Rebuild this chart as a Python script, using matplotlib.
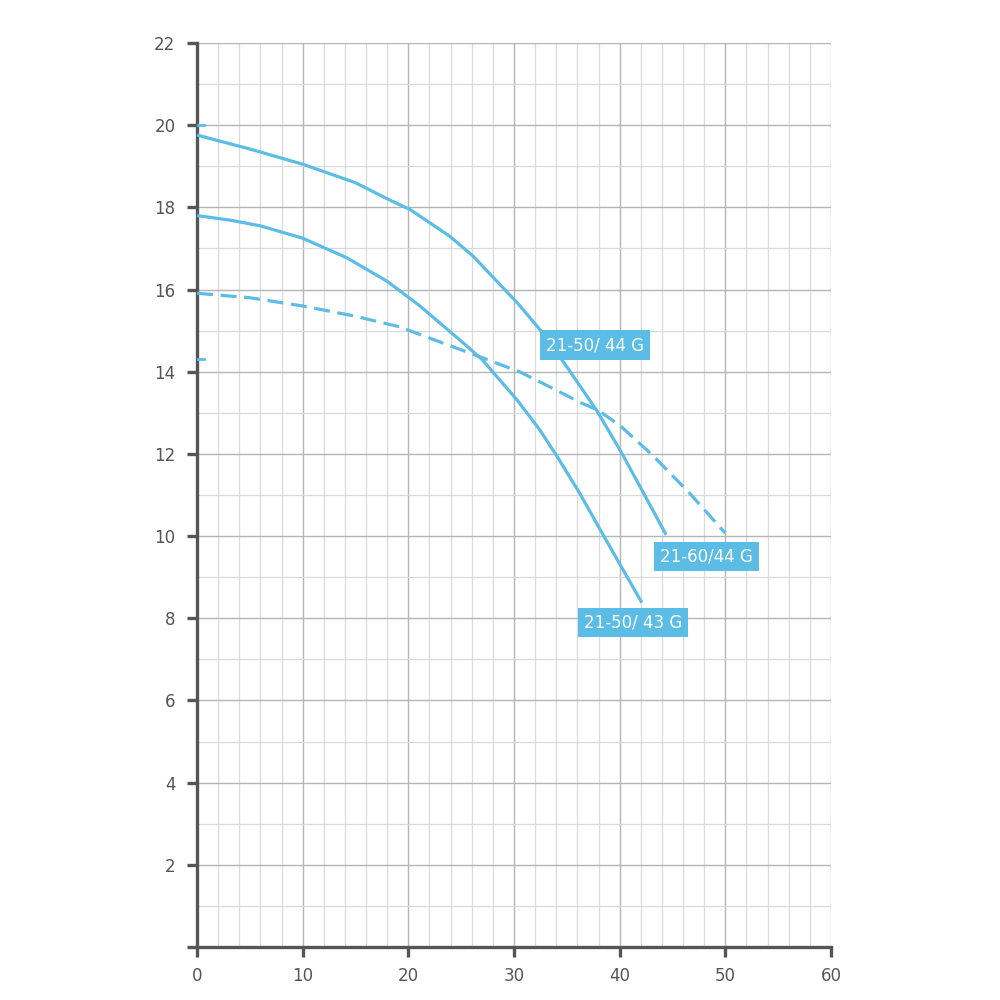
## Pump curves chart
import numpy as np
import matplotlib.pyplot as plt
from matplotlib.ticker import MultipleLocator

## Data
x_5044 = [0, 5, 10, 15, 18.3, 20.15, 23.9, 26.1, 28.9, 30.3, 32.7, 35, 37.8, 40.2, 42, 44.4]
y_5044 = [19.76, 19.42, 19.05, 18.6, 18.17, 17.95, 17.3, 16.82, 16.06, 15.68, 14.95, 14.12, 13.07, 12.02, 11.17, 10.03]

x_5043 = [0, 3.1, 6, 10, 14.2, 18, 21.1, 25.2, 27, 30.3, 32.4, 34.1, 36.2, 38.5, 42.1]
y_5043 = [17.8, 17.69, 17.55, 17.25, 16.77, 16.2, 15.6, 14.7, 14.29, 13.31, 12.6, 11.93, 11.05, 10.0, 8.38]

x_6044 = [0, 5, 10, 15, 19.2, 22, 26.8, 30.6, 33.4, 36.2, 37.9, 40, 43.1, 46.6, 50]
y_6044 = [15.91, 15.8, 15.6, 15.35, 15.09, 14.82, 14.36, 13.99, 13.63, 13.26, 13.07, 12.7, 11.97, 11.05, 10.07]

# short stray stubs next to the y axis
stub_x = [0, 0.7]
stub_y1 = [20.0, 20.0]
stub_y2 = [14.3, 14.3]

labels = ['21-50/ 44 G', '21-60/44 G', '21-50/ 43 G']
label_x = [37.7, 48.2, 41.3]
label_y = [14.65, 9.5, 7.9]

blue = '#5bbde6'
dark = '#555555'

fig = plt.figure(figsize=(10, 10), dpi=100)
ax = fig.add_axes([0.197, 0.053, 0.634, 0.904])

ax.set_xlim(0, 60)
ax.set_ylim(0, 22)

## grid
ax.xaxis.set_major_locator(MultipleLocator(10))
ax.xaxis.set_minor_locator(MultipleLocator(2))
ax.yaxis.set_major_locator(MultipleLocator(2))
ax.yaxis.set_minor_locator(MultipleLocator(1))
ax.grid(which='major', color='#b5b5b5', linewidth=1.0)
ax.grid(which='minor', color='#dadada', linewidth=0.9)
ax.set_axisbelow(True)

## spines and ticks
for s in ['top', 'right']:
    ax.spines[s].set_visible(False)
for s in ['left', 'bottom']:
    ax.spines[s].set_color(dark)
    ax.spines[s].set_linewidth(2.4)
ax.tick_params(which='major', direction='out', length=7.5, width=2.4, color=dark,
               labelcolor=dark, labelsize=12)
ax.tick_params(axis='y', which='major', pad=8)
ax.tick_params(axis='x', which='major', pad=7)
ax.tick_params(which='minor', length=0)
ax.set_yticks(np.arange(0, 23, 2))
ax.set_yticklabels([''] + [str(v) for v in range(2, 23, 2)])

## curves
ax.plot(x_5044, y_5044, color=blue, linewidth=2.3, solid_capstyle='butt', clip_on=False, zorder=3)
ax.plot(x_5043, y_5043, color=blue, linewidth=2.3, solid_capstyle='butt', clip_on=False, zorder=3)
ax.plot(x_6044, y_6044, color=blue, linewidth=2.3, dashes=(5, 2.4), clip_on=False, zorder=3)
ax.plot(stub_x, stub_y1, color=blue, linewidth=2.0, zorder=3)
ax.plot(stub_x, stub_y2, color=blue, linewidth=2.0, zorder=3)

## labels
for t, lx, ly in zip(labels, label_x, label_y):
    ax.text(lx, ly, t, color='white', fontsize=12, ha='center', va='center', zorder=4,
            bbox=dict(boxstyle='square,pad=0.35', facecolor=blue, edgecolor='none'))

fig.savefig('out.png', dpi=100, facecolor='white')
